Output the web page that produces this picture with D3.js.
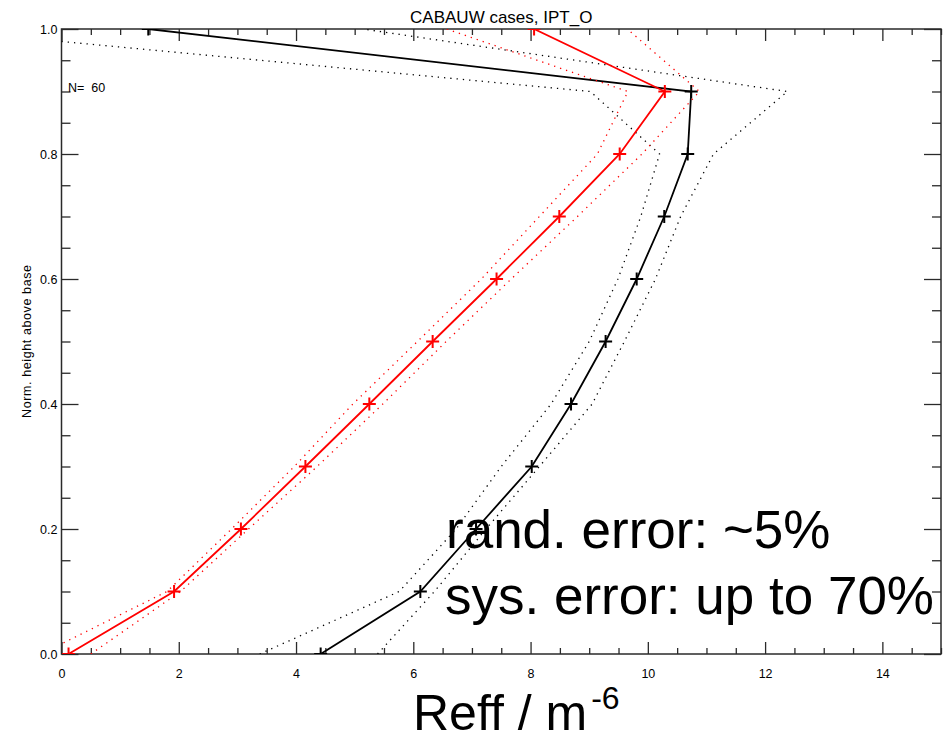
<!DOCTYPE html>
<html>
<head>
<meta charset="utf-8">
<script src="https://cdn.jsdelivr.net/npm/d3@7"></script>
<style>
  html, body { margin: 0; padding: 0; background: #fff; }
  svg { display: block; font-family: "Liberation Sans", Arial, Helvetica, sans-serif; }
  .axis path.domain { display: none; }
  .axis line { stroke: #2a2a2a; stroke-width: 1.3; }
  .axis text { fill: #000; font-size: 12.5px; }
</style>
</head>
<body>
<div id="vis"></div>
<script>
// normalized height levels (0 = cloud base, 1 = cloud top)
const heights = [0, 0.1, 0.2, 0.3, 0.4, 0.5, 0.6, 0.7, 0.8, 0.9, 1.0];

// red profile + lower/upper dotted bounds
const redMean = [0.12, 1.92, 3.06, 4.16, 5.25, 6.33, 7.42, 8.49, 9.52, 10.29, 8.06];
const redLo   = [-0.35, 1.80, 2.90, 3.97, 4.97, 6.07, 7.16, 8.15, 9.14, 9.66, 6.57];
const redHi   = [0.50, 2.03, 3.19, 4.36, 5.48, 6.56, 7.67, 8.80, 9.90, 10.88, 9.65];

// black profile + lower/upper dotted bounds
const blackMean = [4.42, 6.12, 7.07, 8.02, 8.69, 9.28, 9.81, 10.28, 10.68, 10.74, 1.48];
const blackLo   = [3.38, 5.76, 6.73, 7.50, 8.35, 9.00, 9.49, 9.88, 10.20, 9.02, -2.25];
const blackHi   = [5.39, 6.36, 7.24, 8.15, 9.05, 9.60, 10.13, 10.56, 11.12, 12.38, 5.14];

const xMajor = [0, 2, 4, 6, 8, 10, 12, 14];
const yMajor = [0, 0.2, 0.4, 0.6, 0.8, 1.0];

const W = 945, H = 740;
const L = 61.5, R = 941, T = 29, B = 654;

const x = d3.scaleLinear().domain([0, 15]).range([L, R]);
const y = d3.scaleLinear().domain([0, 1]).range([B, T]);

const xMinor = d3.range(0, 15.01, 0.5).filter(v => !xMajor.includes(v));
const yMinor = d3.range(0, 1.001, 0.05).map(v => +v.toFixed(2)).filter(v => !yMajor.includes(v));

const svg = d3.select("#vis").append("svg")
  .attr("width", W)
  .attr("height", H);

svg.append("defs").append("clipPath")
  .attr("id", "plot-clip")
  .append("rect")
  .attr("x", L).attr("y", T)
  .attr("width", R - L).attr("height", B - T);

//#region axes
svg.append("g").attr("class", "axis")
  .attr("transform", `translate(0,${B})`)
  .call(d3.axisBottom(x).tickValues(xMajor).tickSize(-12).tickSizeOuter(0).tickPadding(15).tickFormat(d3.format("d")));
svg.append("g").attr("class", "axis")
  .attr("transform", `translate(0,${B})`)
  .call(d3.axisBottom(x).tickValues(xMinor).tickSize(-6).tickSizeOuter(0).tickFormat(""));
svg.append("g").attr("class", "axis")
  .attr("transform", `translate(0,${T})`)
  .call(d3.axisTop(x).tickValues(xMajor).tickSize(-12).tickSizeOuter(0).tickFormat(""));
svg.append("g").attr("class", "axis")
  .attr("transform", `translate(0,${T})`)
  .call(d3.axisTop(x).tickValues(xMinor).tickSize(-6).tickSizeOuter(0).tickFormat(""));

svg.append("g").attr("class", "axis")
  .attr("transform", `translate(${L},0)`)
  .call(d3.axisLeft(y).tickValues(yMajor).tickSize(-17).tickSizeOuter(0).tickPadding(4).tickFormat(d3.format(".1f")));
svg.append("g").attr("class", "axis")
  .attr("transform", `translate(${L},0)`)
  .call(d3.axisLeft(y).tickValues(yMinor).tickSize(-9).tickSizeOuter(0).tickFormat(""));
svg.append("g").attr("class", "axis")
  .attr("transform", `translate(${R},0)`)
  .call(d3.axisRight(y).tickValues(yMajor).tickSize(-17).tickSizeOuter(0).tickFormat(""));
svg.append("g").attr("class", "axis")
  .attr("transform", `translate(${R},0)`)
  .call(d3.axisRight(y).tickValues(yMinor).tickSize(-9).tickSizeOuter(0).tickFormat(""));

svg.append("rect")
  .attr("x", L).attr("y", T)
  .attr("width", R - L).attr("height", B - T)
  .attr("fill", "none")
  .attr("stroke", "#2a2a2a")
  .attr("stroke-width", 1.5);
//#endregion

//#region profiles
const plot = svg.append("g").attr("clip-path", "url(#plot-clip)");

const line = d3.line()
  .x(d => x(d[0]))
  .y(d => y(d[1]));

function profile(vals, color, dotted) {
  plot.append("path")
    .datum(vals.map((v, i) => [v, heights[i]]))
    .attr("d", line)
    .attr("fill", "none")
    .attr("stroke", color)
    .attr("stroke-width", dotted ? 1.3 : 1.8)
    .attr("stroke-dasharray", dotted ? "1.3,5" : null);
}

function markers(vals, color) {
  plot.append("g")
    .selectAll("path")
    .data(vals.map((v, i) => [v, heights[i]]))
    .enter()
    .append("path")
      .attr("d", d => `M${x(d[0]) - 6.5},${y(d[1])}h13M${x(d[0])},${y(d[1]) - 6.5}v13`)
      .attr("stroke", color)
      .attr("stroke-width", 2);
}

profile(blackLo, "#000", true);
profile(blackHi, "#000", true);
profile(blackMean, "#000", false);
markers(blackMean, "#000");

profile(redLo, "#ff0000", true);
profile(redHi, "#ff0000", true);
profile(redMean, "#ff0000", false);
markers(redMean, "#ff0000");
//#endregion

//#region texts
svg.append("text")
  .attr("x", (L + R) / 2).attr("y", 23)
  .attr("text-anchor", "middle")
  .style("font-size", "17px")
  .text("CABAUW cases, IPT_O");

svg.append("text")
  .attr("transform", `translate(31,${(T + B) / 2}) rotate(-90)`)
  .attr("text-anchor", "middle")
  .attr("textLength", 153)
  .attr("lengthAdjust", "spacing")
  .style("font-size", "12.5px")
  .text("Norm. height above base");

svg.append("text")
  .attr("x", 68).attr("y", 92)
  .style("font-size", "12.5px")
  .attr("xml:space", "preserve")
  .text("N=  60");

svg.append("text")
  .attr("x", 446).attr("y", 548)
  .style("font-size", "53px")
  .text("rand. error: ~5%");

svg.append("text")
  .attr("x", 445).attr("y", 614)
  .style("font-size", "53px")
  .text("sys. error: up to 70%");

const xl = svg.append("text")
  .attr("x", 413).attr("y", 730)
  .style("font-size", "50px");
xl.append("tspan").text("Reff / m");
xl.append("tspan").attr("dx", 4).attr("dy", -21).style("font-size", "32px").text("-6");
//#endregion
</script>
</body>
</html>
